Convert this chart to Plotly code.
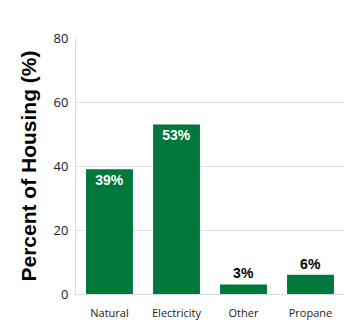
import plotly.graph_objects as go

categories = ["Natural<br>Gas", "Electricity", "Other<br>Fuels", "Propane"]
values = [39, 53, 3, 6]
labels = ["39%", "53%", "3%", "6%"]
text_positions = ["inside", "inside", "outside", "outside"]
text_colors = ["white", "white", "black", "black"]
y_ticks = [0, 20, 40, 60, 80]

fig = go.Figure(go.Bar(
    x=categories, y=values, text=labels,
    textposition=text_positions,
    insidetextanchor="end",
    textfont=dict(color=text_colors, size=14, family="Liberation Sans"),
    marker=dict(color="#00773b", line=dict(width=0)),
    cliponaxis=False,
    width=0.7,
))
fig.update_traces(texttemplate="<b>%{text}</b>")
fig.update_layout(
    width=346, height=324,
    margin=dict(l=76, r=2, t=38, b=30),
    paper_bgcolor="white", plot_bgcolor="white",
    showlegend=False,
    uniformtext=dict(minsize=8, mode=False),
    font=dict(family="Open Sans", color="#222222"),
)
fig.update_yaxes(
    range=[0, 80], tickvals=y_ticks, showgrid=True, gridcolor="#dde3e8", gridwidth=1,
    showline=True, linecolor="#d5dde3", linewidth=1, zeroline=False, automargin=False,
    tickfont=dict(size=13, color="#222222"), ticks="outside", ticklen=4, tickcolor="rgba(0,0,0,0)",
    title=dict(text="<b>Percent of Housing (%)</b>", font=dict(size=21, family="Liberation Sans", color="black"), standoff=11),
)
fig.update_xaxes(
    showline=True, linecolor="#d5dde3", linewidth=1, showgrid=False, automargin=False,
    tickfont=dict(size=11, color="#222222"), ticks="outside", ticklen=9, tickcolor="rgba(0,0,0,0)", tickangle=0,
)
fig.write_html("out.html")
